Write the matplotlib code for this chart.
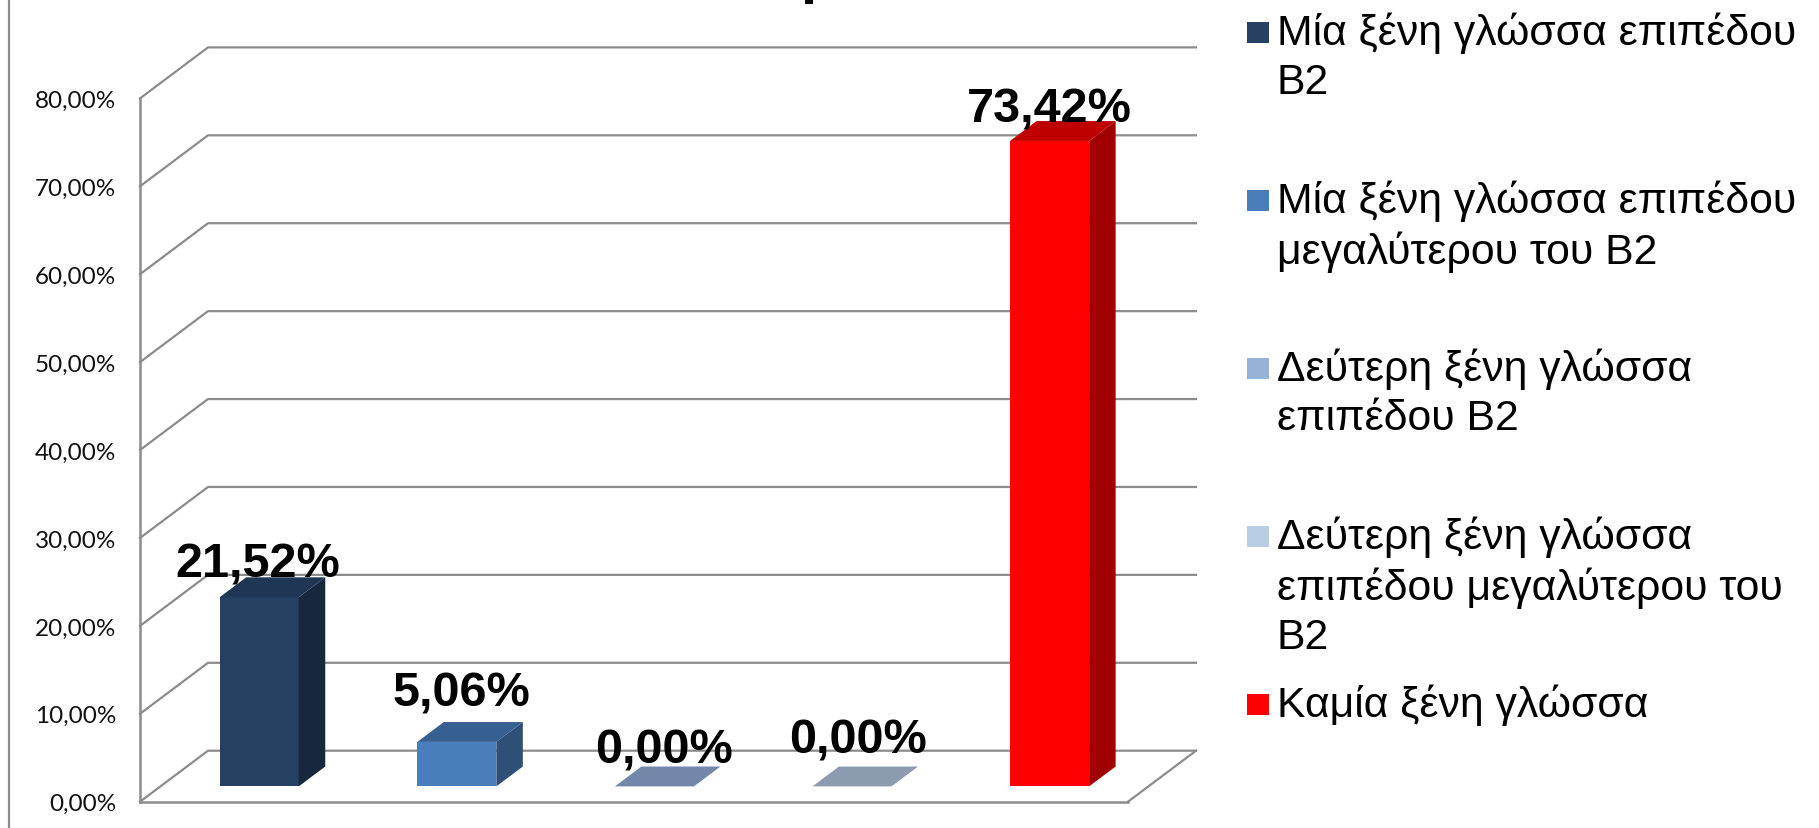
import matplotlib
matplotlib.use("Agg")
import matplotlib.pyplot as plt
from matplotlib.patches import Polygon, Rectangle

# chart values
categories = [
    "Μία ξένη γλώσσα επιπέδου\nΒ2",
    "Μία ξένη γλώσσα επιπέδου\nμεγαλύτερου του Β2",
    "Δεύτερη ξένη γλώσσα\nεπιπέδου Β2",
    "Δεύτερη ξένη γλώσσα\nεπιπέδου μεγαλύτερου του\nΒ2",
    "Καμία ξένη γλώσσα",
]
values = [21.52, 5.06, 0.00, 0.00, 73.42]
value_labels = ["21,52%", "5,06%", "0,00%", "0,00%", "73,42%"]
y_ticks = [0, 10, 20, 30, 40, 50, 60, 70, 80]
y_tick_labels = ["0,00%", "10,00%", "20,00%", "30,00%", "40,00%", "50,00%", "60,00%", "70,00%", "80,00%"]

front_colors = ["#254061", "#4a7ebb", "#7388a8", "#8c9bb0", "#ff0000"]
side_colors = ["#17283e", "#2f4f77", "#7388a8", "#8c9bb0", "#a00000"]
top_colors = ["#1f3654", "#376092", "#7388a8", "#8c9bb0", "#bf0000"]
legend_colors = ["#254061", "#4a7ebb", "#95b3d7", "#b9cde5", "#ff0000"]

W, H = 1819, 829
GREY = "#8c8c8c"

fig = plt.figure(figsize=(W / 100, H / 100), dpi=100)

# axes covers the front plane of the fake 3D box
left, right, bottom, top = 140, 1128, 802.7, 99.4
ax = fig.add_axes([left / W, 1 - bottom / H, (right - left) / W, (bottom - top) / H])
ax.set_xlim(0, len(values))
ax.set_ylim(0, 80)
ax.patch.set_visible(False)

# depth of the box in data units (x in categories, y in percent)
depth_x = 68 / ((right - left) / len(values))
depth_y = 51 / ((bottom - top) / 80)


def project(x, y, d):
    return x + d * depth_x, y + d * depth_y


# walls and gridlines
for t in y_ticks:
    x0, y0 = project(0, t, 0)
    x1, y1 = project(0, t, 1)
    x2, y2 = project(len(values), t, 1)
    ax.plot([x0, x1, x2], [y0, y1, y2], color=GREY, lw=1.6, clip_on=False, zorder=1)
x0, y0 = project(len(values), 0, 0)
x1, y1 = project(len(values), 0, 1)
ax.plot([x0, x1], [y0, y1], color=GREY, lw=1.6, clip_on=False, zorder=1)

for name in ["top", "right"]:
    ax.spines[name].set_visible(False)
for name in ["left", "bottom"]:
    ax.spines[name].set_color(GREY)
    ax.spines[name].set_linewidth(1.8)

ax.set_xticks([])
ax.set_yticks(y_ticks)
ax.set_yticklabels(y_tick_labels, fontfamily="Lato", fontsize=17.5, color="#111111")
ax.tick_params(axis="y", length=0, pad=17)

# bars
bar_w = 0.4
d_front = 0.3
d_back = 0.69
for i, v in enumerate(values):
    xa = i + 0.5 - bar_w / 2
    xb = xa + bar_w
    fa = project(xa, 0, d_front)
    fb = project(xb, 0, d_front)
    ta = project(xa, v, d_front)
    tb = project(xb, v, d_front)
    bb = project(xb, 0, d_back)
    tc = project(xb, v, d_back)
    td = project(xa, v, d_back)
    if v > 0:
        ax.add_patch(Polygon([fa, fb, tb, ta], fc=front_colors[i], ec="none", clip_on=False, zorder=3))
        ax.add_patch(Polygon([fb, bb, tc, tb], fc=side_colors[i], ec="none", clip_on=False, zorder=3))
    ax.add_patch(Polygon([ta, tb, tc, td], fc=top_colors[i], ec="none", clip_on=False, zorder=3))

# value labels, offsets from each bar's top in pixels
label_offsets = [(-1, 11), (5, 26), (10, 14), (6, 24), (0, 9)]
for i, v in enumerate(values):
    x, y = project(i + 0.5, v, d_front)
    ax.annotate(value_labels[i], (x, y), xytext=label_offsets[i], textcoords="offset pixels",
                ha="center", va="bottom", fontsize=35, fontweight="bold",
                fontfamily="Liberation Sans", color="black", zorder=5, annotation_clip=False)

# legend, spaced evenly like the original
for i, label in enumerate(categories):
    y = 33 + i * 168
    fig.add_artist(Rectangle((1246.6 / W, 1 - (y + 10.5) / H), 22 / W, 21 / H,
                             transform=fig.transFigure, fc=legend_colors[i], ec="none"))
    fig.text(1276.5 / W, 1 - (y - 20) / H, label, ha="left", va="top", fontsize=30.8,
             fontfamily="Liberation Sans", color="black", linespacing=1.29)

# slide border on the left, and the only bit of the cropped title still in frame
fig.add_artist(plt.Line2D([8.5 / W, 8.5 / W], [0, 1], color=GREY, lw=1.6))
fig.add_artist(Rectangle((805 / W, 1 - 5 / H), 8 / W, 5 / H, transform=fig.transFigure, fc="black", ec="none"))

fig.savefig("out.png", dpi=100)
